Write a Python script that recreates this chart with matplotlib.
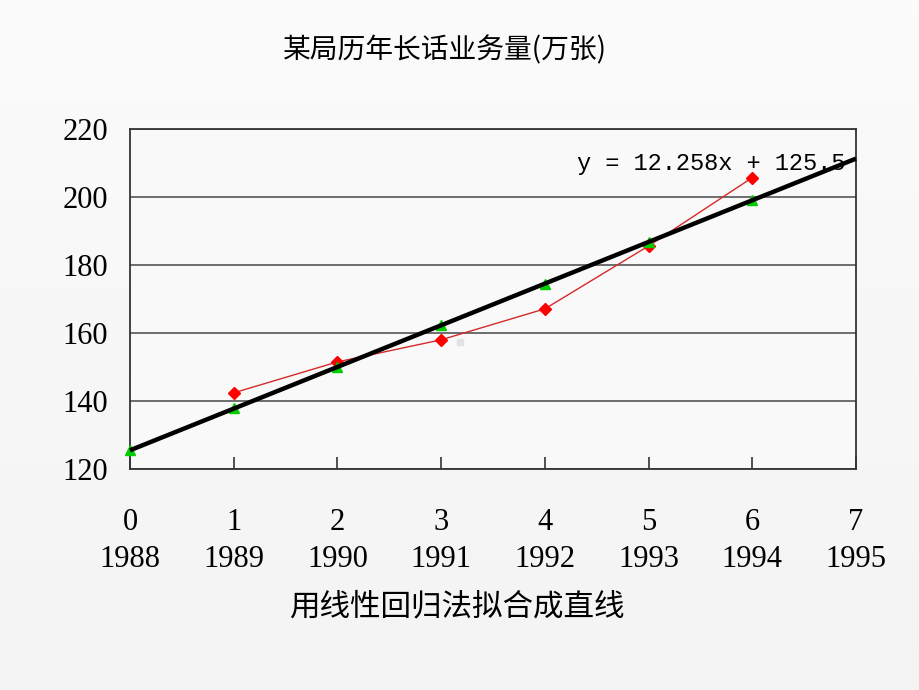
import matplotlib
matplotlib.use("Agg")
import matplotlib.pyplot as plt
import numpy as np

# ---- data ----
x_index = [0, 1, 2, 3, 4, 5, 6, 7]
years = ["1988", "1989", "1990", "1991", "1992", "1993", "1994", "1995"]
actual_x = [1, 2, 3, 4, 5, 6]
actual_y = [142.4, 151.5, 158.0, 167.1, 185.6, 205.7]
fitted_x = [0, 1, 2, 3, 4, 5, 6]
fitted_y = [125.5, 137.8, 150.0, 162.3, 174.5, 186.8, 199.0]
trend_x = [0, 7]
trend_y = [125.5, 211.3]
stray_x = [3.18]
stray_y = [157.4]
y_ticks = [120, 140, 160, 180, 200, 220]
title = "某局历年长话业务量(万张)"
subtitle = "用线性回归法拟合成直线"
equation = "y = 12.258x + 125.5"

cjk = ["Noto Sans CJK SC", "DejaVu Sans"]
serif = ["Liberation Serif", "DejaVu Serif"]

fig = plt.figure(figsize=(9.2, 6.9), dpi=100, facecolor="#f7f7f7")
# subtle background gradient
bg = fig.add_axes([0, 0, 1, 1], zorder=-10)
grad = np.linspace(0.985, 0.955, 256).reshape(-1, 1)
bg.imshow(np.dstack([grad, grad, grad]), aspect="auto", extent=[0, 1, 0, 1])
bg.set_axis_off()

ax = fig.add_axes([0.1413, 0.3203, 0.7891, 0.4927])
ax.set_facecolor("#f9f9f9")

ax.plot(actual_x, actual_y, color="#d42a2a", lw=1.0, marker="D", ms=6,
        mfc="#ff0000", mec="#ff0000", zorder=3, clip_on=False)
ax.plot(fitted_x, fitted_y, ls="none", marker="^", ms=7, mfc="#00cc00",
        mec="#00cc00", zorder=4, clip_on=False)
ax.plot(trend_x, trend_y, color="black", lw=3.2, zorder=5, clip_on=False,
        solid_capstyle="butt")
ax.plot(stray_x, stray_y, ls="none", marker="s", ms=5, mfc="#e2e2e2",
        mec="#e2e2e2", zorder=2)

ax.set_xlim(0, 7)
ax.set_ylim(120, 220)
ax.set_yticks(y_ticks)
ax.set_yticklabels([str(v) for v in y_ticks], fontfamily=serif, fontsize=22)
ax.yaxis.grid(True, color="#555555", lw=1.2)
ax.set_axisbelow(True)
ax.tick_params(axis="y", length=0, pad=16)

ax.set_xticks(x_index)
ax.set_xticklabels([f"{i}\n{y}" for i, y in zip(x_index, years)],
                   fontfamily=serif, fontsize=22, linespacing=1.35)
ax.tick_params(axis="x", direction="in", length=9, width=1.2,
               color="#333333", pad=28)
for t in ax.get_xticklabels():
    t.set_horizontalalignment("center")

for s in ax.spines.values():
    s.set_color("#333333")
    s.set_linewidth(1.3)

ax.text(0.985, 0.90, equation, transform=ax.transAxes, ha="right",
        va="center", fontfamily=["Liberation Mono", "DejaVu Sans Mono"],
        fontsize=17, zorder=6)

fig.text(0.484, 0.927, title, ha="center", va="center", fontfamily=cjk,
         fontsize=20)
fig.text(0.496, 0.12, subtitle, ha="center", va="center", fontfamily=cjk,
         fontsize=22)

fig.savefig("out.png", dpi=100, facecolor=fig.get_facecolor())
